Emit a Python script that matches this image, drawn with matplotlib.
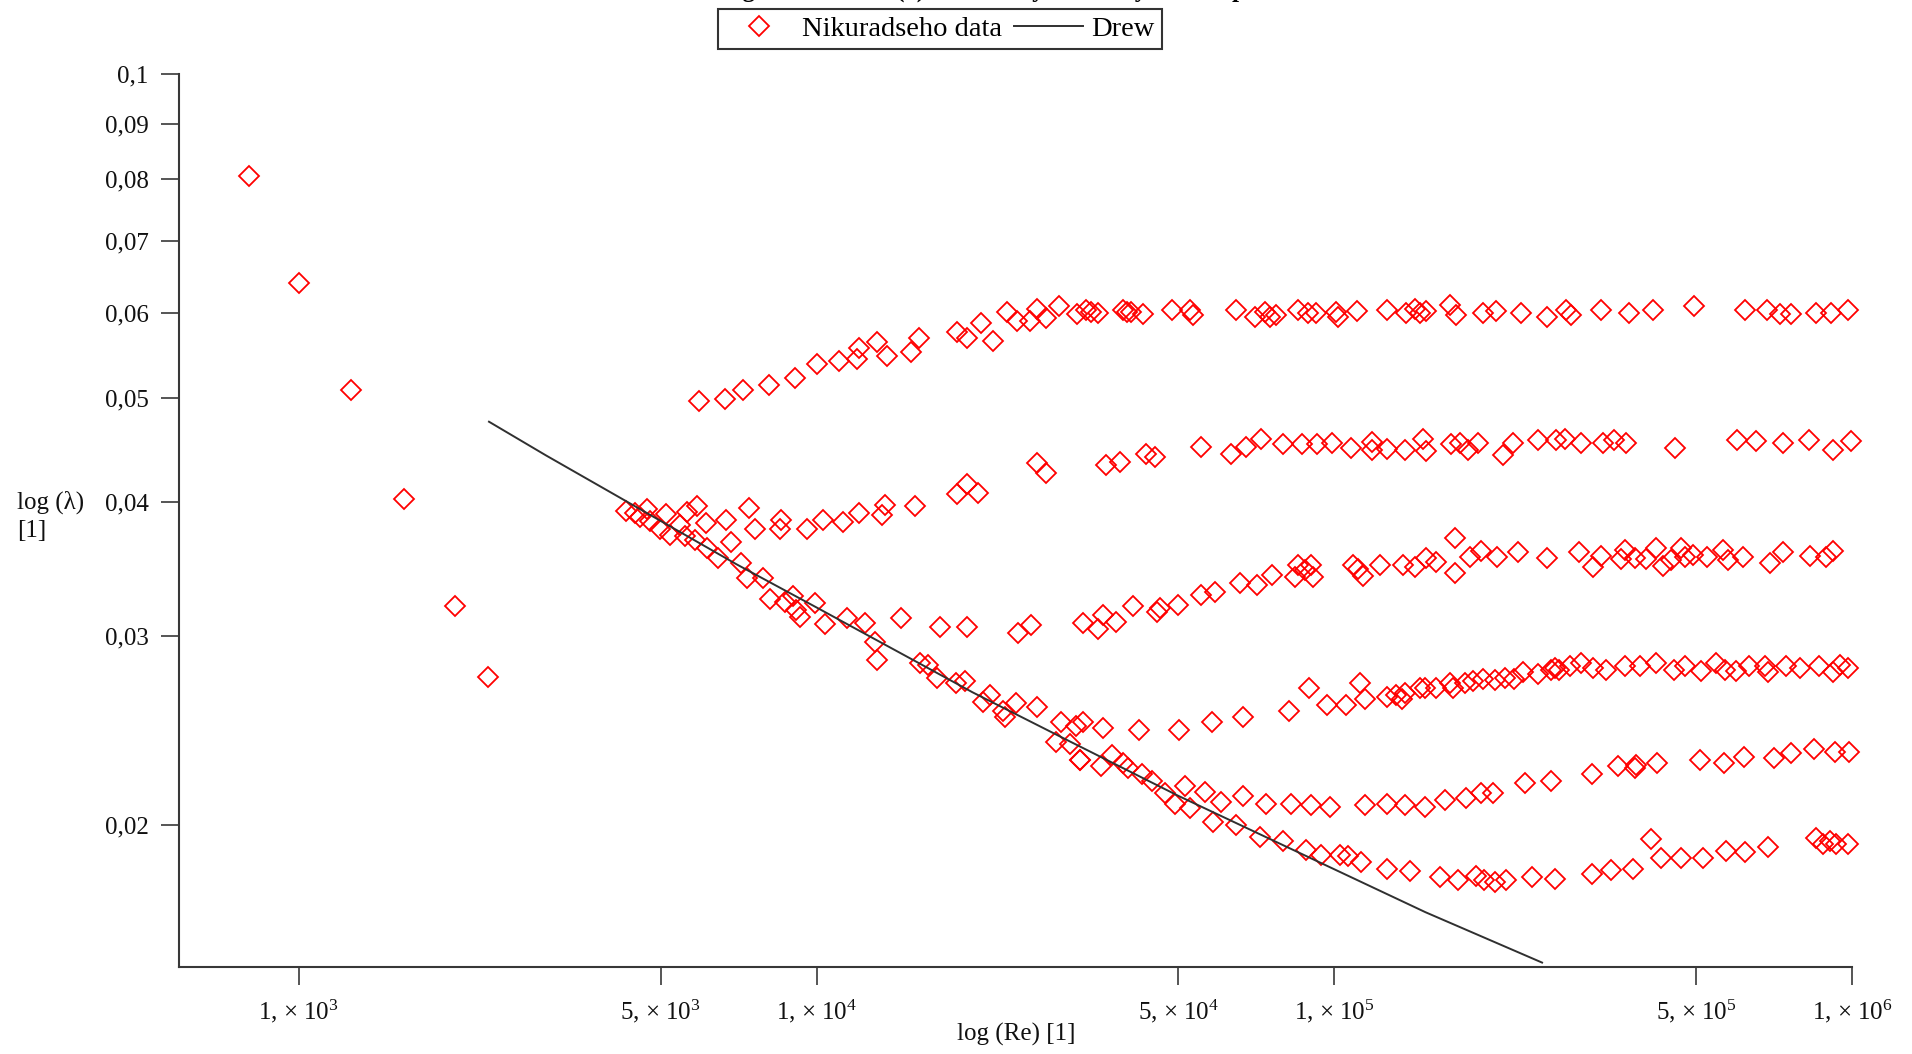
import numpy as np
import matplotlib
matplotlib.use("Agg")
import matplotlib.pyplot as plt
from matplotlib.ticker import FixedLocator, FixedFormatter, NullLocator

plt.rcParams["font.family"] = ["Liberation Serif", "DejaVu Serif"]
plt.rcParams["mathtext.fontset"] = "custom"
plt.rcParams["mathtext.rm"] = "Liberation Serif"
plt.rcParams["mathtext.it"] = "Liberation Serif:italic"
plt.rcParams["mathtext.bf"] = "Liberation Serif:bold"

# Nikuradse measurements, stored as (log10 Re, log10 lambda)
laminar = [(2.903, -1.095), (3.000, -1.194), (3.101, -1.294), (3.203, -1.395),
           (3.301, -1.495), (3.365, -1.561)]

row_top = [(3.773, -1.304), (3.823, -1.302), (3.858, -1.294), (3.909, -1.289), (3.958, -1.283),
           (4.001, -1.270), (4.043, -1.267), (4.079, -1.265), (4.082, -1.255), (4.116, -1.249),
           (4.136, -1.262), (4.182, -1.258), (4.198, -1.245), (4.272, -1.240), (4.290, -1.245),
           (4.317, -1.231), (4.341, -1.248), (4.368, -1.221), (4.388, -1.230), (4.412, -1.230),
           (4.425, -1.218), (4.444, -1.227), (4.468, -1.216), (4.503, -1.223), (4.521, -1.219),
           (4.531, -1.221), (4.544, -1.222), (4.592, -1.219), (4.599, -1.221), (4.608, -1.221),
           (4.631, -1.223), (4.687, -1.219), (4.721, -1.219), (4.727, -1.224), (4.811, -1.219),
           (4.846, -1.226), (4.866, -1.221), (4.875, -1.226), (4.888, -1.224), (4.930, -1.219),
           (4.949, -1.222), (4.965, -1.222), (5.004, -1.221), (5.007, -1.226), (5.043, -1.220),
           (5.101, -1.219), (5.139, -1.222), (5.155, -1.218), (5.165, -1.222), (5.178, -1.220),
           (5.223, -1.215), (5.236, -1.224), (5.287, -1.222), (5.312, -1.220), (5.361, -1.222),
           (5.411, -1.226), (5.448, -1.219), (5.458, -1.224), (5.516, -1.219), (5.570, -1.222),
           (5.615, -1.219), (5.694, -1.216), (5.794, -1.219), (5.836, -1.219), (5.860, -1.223),
           (5.883, -1.223), (5.931, -1.222), (5.960, -1.222), (5.992, -1.219)]

cluster = [(3.632, -1.406), (3.649, -1.408), (3.659, -1.412), (3.672, -1.405), (3.678, -1.416),
           (3.697, -1.423), (3.710, -1.409), (3.717, -1.429), (3.736, -1.419), (3.746, -1.430),
           (3.750, -1.407), (3.765, -1.433), (3.770, -1.402), (3.786, -1.418), (3.788, -1.441),
           (3.810, -1.450), (3.826, -1.415), (3.835, -1.435), (3.855, -1.455), (3.870, -1.404),
           (3.865, -1.469), (3.881, -1.423), (3.897, -1.469), (3.910, -1.488), (3.932, -1.415),
           (3.929, -1.423), (3.939, -1.491), (3.955, -1.486), (3.981, -1.423), (3.997, -1.492),
           (4.013, -1.415), (4.051, -1.417), (4.082, -1.408), (4.126, -1.410), (4.132, -1.401),
           (4.190, -1.402), (4.272, -1.391), (4.290, -1.381), (4.312, -1.390), (4.426, -1.362),
           (4.444, -1.371)]

row_2 = [(4.560, -1.364), (4.586, -1.361), (4.637, -1.353), (4.653, -1.356), (4.743, -1.347),
         (4.801, -1.353), (4.830, -1.347), (4.859, -1.339), (4.901, -1.344), (4.937, -1.344),
         (4.966, -1.344), (4.995, -1.343), (5.033, -1.348), (5.072, -1.342), (5.072, -1.350),
         (5.101, -1.349), (5.136, -1.350), (5.171, -1.339), (5.178, -1.351), (5.226, -1.344),
         (5.242, -1.343), (5.258, -1.350), (5.278, -1.343), (5.326, -1.354), (5.345, -1.343),
         (5.393, -1.340), (5.429, -1.340), (5.445, -1.339), (5.477, -1.343), (5.519, -1.343),
         (5.541, -1.340), (5.564, -1.343), (5.659, -1.348), (5.778, -1.340), (5.814, -1.341),
         (5.866, -1.343), (5.917, -1.340), (5.963, -1.350), (5.999, -1.341)]

branch = [(3.961, -1.499), (3.968, -1.505), (4.016, -1.512), (4.058, -1.506), (4.093, -1.511),
          (4.113, -1.528), (4.116, -1.545), (4.164, -1.506), (4.200, -1.548), (4.216, -1.550),
          (4.232, -1.562), (4.238, -1.514), (4.270, -1.567), (4.286, -1.565), (4.290, -1.514),
          (4.322, -1.584), (4.335, -1.578), (4.360, -1.593), (4.364, -1.598), (4.386, -1.585),
          (4.389, -1.520), (4.415, -1.513), (4.425, -1.589), (4.463, -1.621), (4.473, -1.603),
          (4.489, -1.623), (4.502, -1.607), (4.515, -1.603), (4.508, -1.638), (4.515, -1.511),
          (4.544, -1.516)]

row_3 = [(4.553, -1.503), (4.579, -1.510), (4.611, -1.495), (4.657, -1.500), (4.663, -1.497),
         (4.698, -1.494), (4.743, -1.485), (4.769, -1.482), (4.817, -1.473), (4.850, -1.475),
         (4.879, -1.466), (4.924, -1.468), (4.930, -1.457), (4.943, -1.461), (4.956, -1.457),
         (4.959, -1.468), (5.036, -1.457), (5.045, -1.460), (5.055, -1.467), (5.088, -1.457),
         (5.133, -1.457), (5.155, -1.459), (5.178, -1.450), (5.197, -1.454), (5.233, -1.432),
         (5.233, -1.464), (5.262, -1.449), (5.284, -1.444), (5.314, -1.449), (5.355, -1.445),
         (5.411, -1.450), (5.473, -1.445), (5.500, -1.459), (5.516, -1.448), (5.554, -1.451),
         (5.561, -1.443), (5.580, -1.450), (5.603, -1.451), (5.622, -1.441), (5.635, -1.458),
         (5.651, -1.452), (5.670, -1.441), (5.677, -1.449), (5.693, -1.447), (5.719, -1.449),
         (5.751, -1.443), (5.760, -1.452), (5.789, -1.449), (5.841, -1.455), (5.866, -1.445),
         (5.918, -1.448), (5.950, -1.449), (5.963, -1.444)]

row_4 = [(4.553, -1.608), (4.623, -1.610), (4.700, -1.610), (4.763, -1.603), (4.824, -1.598),
         (4.913, -1.593), (4.951, -1.571), (4.986, -1.587), (5.023, -1.587), (5.050, -1.567),
         (5.059, -1.581), (5.101, -1.580), (5.120, -1.578), (5.130, -1.581), (5.136, -1.576),
         (5.165, -1.571), (5.175, -1.571), (5.197, -1.571), (5.223, -1.567), (5.229, -1.571),
         (5.252, -1.567), (5.268, -1.565), (5.287, -1.563), (5.310, -1.564), (5.329, -1.562),
         (5.348, -1.563), (5.364, -1.556), (5.393, -1.558), (5.419, -1.554), (5.426, -1.553),
         (5.435, -1.554), (5.455, -1.551), (5.477, -1.548), (5.500, -1.553), (5.525, -1.554),
         (5.561, -1.551), (5.590, -1.551), (5.621, -1.548), (5.657, -1.554), (5.677, -1.551),
         (5.709, -1.555), (5.738, -1.548), (5.754, -1.554), (5.776, -1.555), (5.802, -1.551),
         (5.831, -1.551), (5.838, -1.556), (5.873, -1.551), (5.899, -1.553), (5.937, -1.551),
         (5.963, -1.556), (5.976, -1.550), (5.992, -1.553)]

row_5 = [(4.711, -1.662), (4.750, -1.668), (4.782, -1.677), (4.824, -1.672), (4.869, -1.679),
         (4.917, -1.679), (4.956, -1.680), (4.991, -1.682), (5.059, -1.680), (5.101, -1.679),
         (5.136, -1.680), (5.175, -1.682), (5.213, -1.675), (5.255, -1.674), (5.284, -1.669),
         (5.306, -1.669), (5.368, -1.660), (5.419, -1.658), (5.497, -1.651), (5.548, -1.644),
         (5.580, -1.646), (5.582, -1.643), (5.623, -1.641), (5.706, -1.638), (5.752, -1.641),
         (5.791, -1.635), (5.849, -1.636), (5.883, -1.632), (5.926, -1.628), (5.968, -1.631),
         (5.995, -1.631)]

row_6 = [(4.508, -1.638), (4.550, -1.644), (4.570, -1.634), (4.592, -1.641), (4.602, -1.646),
         (4.628, -1.651), (4.647, -1.658), (4.673, -1.669), (4.692, -1.679), (4.721, -1.683),
         (4.766, -1.696), (4.811, -1.699), (4.856, -1.710), (4.901, -1.714), (4.946, -1.722),
         (4.975, -1.727), (5.011, -1.727), (5.027, -1.728), (5.052, -1.733), (5.101, -1.740),
         (5.146, -1.742), (5.204, -1.747), (5.239, -1.750), (5.274, -1.746), (5.290, -1.750),
         (5.310, -1.752), (5.332, -1.750), (5.381, -1.747), (5.426, -1.749), (5.497, -1.744),
         (5.535, -1.741), (5.577, -1.740), (5.612, -1.712), (5.632, -1.729), (5.670, -1.729),
         (5.713, -1.729), (5.757, -1.723), (5.794, -1.724), (5.838, -1.719), (5.931, -1.711),
         (5.944, -1.716), (5.957, -1.714), (5.970, -1.716), (5.992, -1.716)]

# Drew smooth-pipe relation
drew_re = [2330, 3000, 5000, 7000, 10000, 20000, 30000, 50000, 100000, 150000, 252000]
drew_lam = [0.0475, 0.0442, 0.0384, 0.0350, 0.0319, 0.0266, 0.0241, 0.0213, 0.0182, 0.0166, 0.0149]

x_ticks = [1e3, 5e3, 1e4, 5e4, 1e5, 5e5, 1e6]
x_labels = ["1, × $10^{3}$", "5, × $10^{3}$", "1, × $10^{4}$", "5, × $10^{4}$",
            "1, × $10^{5}$", "5, × $10^{5}$", "1, × $10^{6}$"]
y_ticks = [0.02, 0.03, 0.04, 0.05, 0.06, 0.07, 0.08, 0.09, 0.1]
y_labels = ["0,02", "0,03", "0,04", "0,05", "0,06", "0,07", "0,08", "0,09", "0,1"]

pts = np.vstack([np.array(g) for g in
                 (laminar, row_top, cluster, row_2, branch, row_3, row_4, row_5, row_6)])
re = 10 ** pts[:, 0]
lam = 10 ** pts[:, 1]

W, H = 1912, 1054
fig = plt.figure(figsize=(W / 100, H / 100), dpi=100)
ax = fig.add_axes([179 / W, 1 - 967 / H, (1852 - 179) / W, (967 - 74.4) / H])
ax.set_xscale("log")
ax.set_yscale("log")

ax.plot(re, lam, ls="none", marker="D", ms=10, mfc="none", mec="#ff0000", mew=1.3,
        clip_on=False, label="Nikuradseho data")
ax.plot(drew_re, drew_lam, color="#303030", lw=1.4, label="Drew")

ax.set_xlim(587, 1e6)
ax.set_ylim(0.01476, 0.1)

ax.xaxis.set_major_locator(FixedLocator(x_ticks))
ax.xaxis.set_major_formatter(FixedFormatter(x_labels))
ax.yaxis.set_major_locator(FixedLocator(y_ticks))
ax.yaxis.set_major_formatter(FixedFormatter(y_labels))
ax.xaxis.set_minor_locator(NullLocator())
ax.yaxis.set_minor_locator(NullLocator())

for side in ("top", "right"):
    ax.spines[side].set_visible(False)
for side in ("left", "bottom"):
    ax.spines[side].set_linewidth(1.5)
    ax.spines[side].set_color("#383838")
ax.tick_params(axis="both", direction="out", length=13, width=1.2, color="#383838",
               labelsize=18, labelcolor="#111111")
ax.tick_params(axis="y", pad=9)
ax.tick_params(axis="x", pad=9)

fig.text(17 / W, 1 - 491 / H, "log (λ)\n[1]", ha="left", va="top", fontsize=18,
         linespacing=1.3, color="#111111")
fig.text(1016 / W, 1 - 1034 / H, "log (Re) [1]", ha="center", va="center", fontsize=18,
         color="#111111")

# heading sits above the top edge, only its descenders reach the canvas
fig.text(0.5, 1 + 3 / H, "Nikuradseho graf závislosti (λ) na Re a hydraulicky hladké potrubí",
         ha="center", va="baseline", fontsize=18, fontweight="bold")

leg = fig.legend(loc="upper center", bbox_to_anchor=(940 / W, 1 - 8.5 / H), ncol=2,
                 fontsize=20.5, frameon=True, fancybox=False, edgecolor="black",
                 handlelength=2.4, handletextpad=0.3, columnspacing=0.43, borderpad=0.25,
                 borderaxespad=0)
leg.get_frame().set_linewidth(1.5)

fig.savefig("out.png", dpi=100)
